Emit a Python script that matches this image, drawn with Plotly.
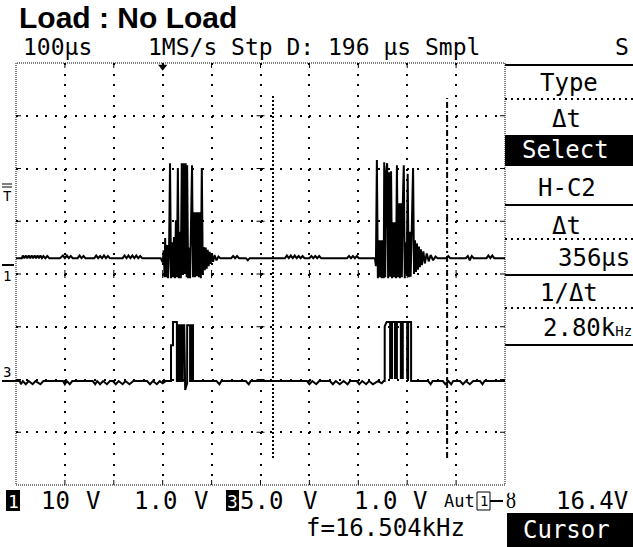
import plotly.graph_objects as go

TITLE = "Load : No Load"
HEADER_LEFT = "100µs"
HEADER_MID = "1MS/s Stp D: 196 µs Smpl"
HEADER_RIGHT = "S"

TIME_PER_DIV_US = 100      # 10 horizontal divisions
N_XDIV = 10
N_YDIV = 8
CH1_V_PER_DIV = 10
CH3_V_PER_DIV = 5
CH1_POS_DIV = 4.30         # trace baseline, divisions above bottom
CH3_POS_DIV = 1.97
TRIG_POS_US = 300

# channel 1 (V) : (time µs, volts)
ch1_samples = [
    (0, 0), (12, 0), (14, 0.5), (17, 0), (20, 0.5), (23, 0), (26, 0.5), (29, 0), (32, 0.5), (35, 0),
    (38, 0.5), (41, 0), (44, 0.5), (47, 0), (50, 0.5), (53, 0), (56, 0.4), (60, 0), (64, 0.4), (68, 0),
    (90, 0), (96, 0.5), (100, 0), (104, 0.5), (108, 0), (112, 0.4), (116, 0),
    (126, 0), (130, 0.5), (134, 0), (138, 0.4), (142, 0),
    (160, 0), (164, 0.5), (168, 0), (172, 0.4), (176, 0), (180, 0.5), (184, 0), (188, 0.4), (192, 0),
    (218, 0), (222, 0.5), (226, 0), (230, 0.5), (234, 0), (238, 0.5), (242, 0), (246, 0.5), (250, 0),
    (254, 0.4), (258, 0),
    (296, 0), (300, -0.8), (302, 1.5), (304, -3.6), (305, 3.8), (307, -3.6), (309, 2.5), (311, -3.8),
    (313, 1.5), (315, 18.0), (317, -3.8), (319, 3.0), (321, -3.6), (323, 4.0), (325, -3.8), (327, 7.2),
    (329, -3.6), (331, 17.1), (333, -3.8), (335, 5.0), (337, -3.8), (339, 18.0), (341, -3.2), (343, 18.0),
    (345, -3.0), (347, 18.0), (349, -3.6), (350, 17.6), (352, -3.8), (354, 2.0), (356, -3.8), (360, 17.6),
    (362, -3.6), (364, 8.7), (366, -3.6), (368, 8.7), (370, -3.4), (372, 8.7), (374, -3.6), (376, 8.7),
    (378, -3.8), (380, 17.1), (382, -3.0), (384, 2.1), (386, -2.3), (388, 2.0), (390, -2.0), (392, 1.6),
    (394, -1.5), (396, 1.2), (398, -1.1), (400, 0.9), (403, -0.7), (406, 0.6), (410, -0.4), (414, 0.3),
    (418, 0),
    (440, 0), (444, 0.4), (448, 0), (452, 0.4), (456, 0), (470, 0), (474, -0.4), (478, 0),
    (550, 0), (554, 0.5), (558, 0), (562, 0.5), (566, 0), (570, 0.5), (574, 0), (578, 0.4), (582, 0),
    (586, 0.4), (590, 0), (600, 0), (604, 0.4), (608, 0), (612, 0.4), (616, 0), (620, 0.4), (624, 0),
    (677, 0), (681, 0.4), (685, 0), (689, 0.4), (693, 0), (697, 0.4), (701, 0),
    (734, 0), (736, -1.5), (738, 18.6), (740, -3.8), (742, 3.4), (744, -3.6), (746, 3.4), (748, -3.8),
    (750, 3.4), (752, -3.8), (753, 18.2), (755, -3.6), (757, 16.3), (759, 18.0), (761, -3.8), (763, 16.3),
    (765, -3.5), (767, 16.5), (769, -3.8), (771, 6.8), (773, -3.6), (775, 6.8), (777, -3.8), (779, 17.6),
    (781, -3.6), (783, 10.4), (785, -3.8), (787, 10.4), (789, -3.6), (791, 10.4), (793, 17.6), (795, -3.8),
    (797, 3.0), (799, -3.0), (801, 16.0), (803, -3.6), (805, 5.0), (807, -3.5), (809, 4.0), (812, 17.1),
    (814, -3.0), (816, 3.4), (818, -2.6), (820, 2.8), (822, -2.2), (824, 2.2), (826, -1.7), (828, 1.7),
    (830, -1.3), (833, 1.3), (836, -1.0), (840, 0.9), (844, -0.6), (848, 0.6), (853, -0.4), (858, 0.3),
    (862, 0),
    (880, 0), (884, 0.4), (888, 0), (920, 0), (924, 0.4), (928, -0.4), (932, 0.4), (936, 0),
    (962, 0), (966, 0.5), (970, 0), (974, 0.5), (978, 0), (1000, 0),
]

# channel 3 (V) : (time µs, volts)
ch3_samples = [
    (0, 0), (8, 0), (10, -0.3), (14, 0), (20, -0.3), (26, 0), (34, -0.3), (40, 0), (50, -0.3), (56, 0),
    (96, 0), (100, -0.3), (104, 0), (110, -0.3), (115, 0),
    (157, 0), (162, -0.3), (166, 0), (172, -0.3), (178, 0), (186, -0.3), (192, 0),
    (198, 0), (204, -0.3), (210, 0), (218, -0.3), (224, 0), (232, -0.3), (240, 0),
    (268, 0), (274, -0.3), (280, 0), (288, -0.3), (294, 0), (300, -0.2), (306, 0),
    (317, 0), (317, 3.4), (321, 3.4), (321, 5.6), (329, 5.6), (329, 0), (333, 0), (333, 5.3), (337, 5.3),
    (337, 0), (341, 0), (341, 5.3), (344, 5.3), (346, -0.85), (350, -0.2), (350, 5.3), (356, 5.3),
    (356, 0), (358, 0), (358, 5.3), (362, 5.3), (362, 0),
    (410, 0), (416, -0.3), (420, 0), (470, 0), (476, -0.3), (480, 0),
    (595, 0), (600, -0.3), (606, 0), (614, -0.3), (620, 0),
    (642, 0), (648, -0.3), (654, 0), (662, -0.3), (670, 0), (678, -0.3), (683, 0),
    (697, 0), (702, -0.3), (708, 0), (716, -0.3), (722, 0), (730, -0.3), (740, 0), (748, -0.2), (752, 0),
    (754, 0), (754, 5.2), (758, 5.6), (765, 5.6), (765, 0.3), (769, 0.3), (769, 5.6), (775, 5.6),
    (775, 0.3), (779, 0.3), (779, 5.6), (787, 5.6), (787, 0.3), (791, 0.3), (791, 5.6), (800, 5.6),
    (800, 0.3), (802, 0.3), (802, 5.6), (808, 5.6), (808, 0), (814, 0),
    (843, 0), (848, -0.3), (852, 0), (873, 0), (878, -0.3), (884, 0), (890, -0.3), (894, 0),
    (908, 0), (914, -0.3), (920, 0), (928, -0.3), (935, 0), (949, 0), (954, -0.3), (958, 0), (1000, 0),
]

CURSOR1_US = 525.6
DELTA_T_US = 356

MENU_ITEMS = ["Type", "Δt", "Select", "H-C2", "Δt", "356µs", "1/Δt", "2.80k"]
BOTTOM_FREQ = "f=16.504kHz"
TRIG_LEVEL = "16.4V"

# ---------------- layout geometry (pixels) ----------------
W, H = 633, 547
L, R, T, B = 16, 505, 63, 485
MONO = "DejaVu Sans Mono"
FS = 24


def px(x):
    return (x - L) / (R - L)


def py(y):
    return (B - y) / (B - T)


fig = go.Figure()
fig.add_trace(go.Scatter(
    x=[s[0] for s in ch1_samples], y=[s[1] for s in ch1_samples],
    mode="lines", line=dict(color="black", width=2, simplify=False), yaxis="y", hoverinfo="skip"))
fig.add_trace(go.Scatter(
    x=[s[0] for s in ch3_samples], y=[s[1] for s in ch3_samples],
    mode="lines", line=dict(color="black", width=2, simplify=False), yaxis="y2", hoverinfo="skip"))

ch1_lo = -CH1_POS_DIV * CH1_V_PER_DIV
ch1_hi = (N_YDIV - CH1_POS_DIV) * CH1_V_PER_DIV
ch3_lo = -CH3_POS_DIV * CH3_V_PER_DIV
ch3_hi = (N_YDIV - CH3_POS_DIV) * CH3_V_PER_DIV

# trigger position marker
fig.add_trace(go.Scatter(
    x=[TRIG_POS_US], y=[ch1_hi - 0.07 * CH1_V_PER_DIV], mode="markers", yaxis="y",
    marker=dict(symbol="triangle-down", size=8, color="black"), cliponaxis=False, hoverinfo="skip"))

x_span = TIME_PER_DIV_US * N_XDIV
fig.update_layout(
    width=W, height=H,
    margin=dict(l=L, r=W - R, t=T, b=H - B, pad=0, autoexpand=False),
    paper_bgcolor="white", plot_bgcolor="white", showlegend=False,
    xaxis=dict(range=[0, x_span], tick0=0, dtick=TIME_PER_DIV_US, showticklabels=False,
               showgrid=True, gridcolor="black", gridwidth=2, griddash="2px,8.55px",
               zeroline=False, showline=False, ticks="", fixedrange=True),
    yaxis=dict(range=[ch1_lo, ch1_hi], tick0=ch1_lo, dtick=CH1_V_PER_DIV, showticklabels=False,
               showgrid=True, gridcolor="black", gridwidth=2, griddash="2px,7.78px",
               zeroline=False, showline=False, ticks="", fixedrange=True),
    yaxis2=dict(range=[ch3_lo, ch3_hi], overlaying="y", visible=False, fixedrange=True),
)

shapes = []
ann = []

# frame (dense dotted)
shapes.append(dict(type="rect", xref="paper", yref="paper", x0=0, x1=1, y0=0, y1=1,
                   line=dict(color="black", width=1, dash="1px,1px")))
# division ticks on frame
for k in range(1, N_XDIV):
    t = k * TIME_PER_DIV_US
    shapes.append(dict(type="line", xref="x", yref="paper", x0=t, x1=t, y0=1, y1=1 - 5 / (B - T),
                       line=dict(color="black", width=1)))
    shapes.append(dict(type="line", xref="x", yref="paper", x0=t, x1=t, y0=0, y1=5 / (B - T),
                       line=dict(color="black", width=1)))
    # ticks on centre horizontal line
    shapes.append(dict(type="line", xref="x", yref="paper", x0=t, x1=t, y0=0.5 - 4 / (B - T),
                       y1=0.5 + 4 / (B - T), line=dict(color="black", width=1)))
for k in range(1, N_YDIV):
    yy = k / N_YDIV
    shapes.append(dict(type="line", xref="paper", yref="paper", x0=0, x1=5 / (R - L), y0=yy, y1=yy,
                       line=dict(color="black", width=1)))
    shapes.append(dict(type="line", xref="paper", yref="paper", x0=1, x1=1 - 5 / (R - L), y0=yy, y1=yy,
                       line=dict(color="black", width=1)))
    shapes.append(dict(type="line", xref="paper", yref="paper", x0=0.5 - 4 / (R - L), x1=0.5 + 4 / (R - L),
                       y0=yy, y1=yy, line=dict(color="black", width=1)))

# cursors
shapes.append(dict(type="line", xref="x", yref="paper", x0=CURSOR1_US, x1=CURSOR1_US,
                   y0=py(458), y1=py(95), line=dict(color="black", width=2, dash="2px,2px")))
c2 = CURSOR1_US + DELTA_T_US
shapes.append(dict(type="line", xref="x", yref="paper", x0=c2, x1=c2,
                   y0=py(458), y1=py(98), line=dict(color="black", width=2, dash="6px,3px,2px,3px")))


def hline(y, x0, x1, dash=None, width=2):
    d = dict(color="black", width=width)
    if dash:
        d["dash"] = dash
    shapes.append(dict(type="line", xref="paper", yref="paper", x0=px(x0), x1=px(x1), y0=py(y), y1=py(y),
                       line=d))


def box(x0, x1, y0, y1, fill="black", line=None):
    shapes.append(dict(type="rect", xref="paper", yref="paper", x0=px(x0), x1=px(x1), y0=py(y1), y1=py(y0),
                       fillcolor=fill, line=line or dict(width=0)))


def text(s, x, y, size=FS, anchor="left", color="black", family=MONO, bold=False, height=None):
    if bold:
        s = "<b>" + s + "</b>"
    a = dict(text=s, xref="paper", yref="paper", x=px(x), y=py(y), xanchor=anchor, yanchor="middle",
             showarrow=False, font=dict(family=family, size=size, color=color))
    if height:
        a["height"] = height
    ann.append(a)


# right menu panel
hline(65, 505, 633)
hline(99, 505, 633, dash="2px,4px")
box(505, 633, 135, 166)
hline(205, 505, 633)
hline(239, 505, 633, dash="2px,4px")
hline(275, 505, 633)
hline(308, 505, 633, dash="2px,4px")
hline(345, 505, 633)

text(MENU_ITEMS[0], 569, 83, anchor="center")
text(MENU_ITEMS[1], 566, 119, anchor="center")
text(MENU_ITEMS[2], 565, 150, anchor="center", color="white")
text(MENU_ITEMS[3], 567, 188, anchor="center")
text(MENU_ITEMS[4], 566, 226, anchor="center")
text(MENU_ITEMS[5], 632, 258, anchor="right")
text(MENU_ITEMS[6], 569, 293, anchor="center")
text(MENU_ITEMS[7] + "<span style='font-size:14px'>Hz</span>", 634, 328, anchor="right")

# header
text(TITLE, 17, 17, size=30, family="Liberation Sans", bold=True, height=30)
text(HEADER_LEFT, 21, 47, size=23, height=26)
text(HEADER_MID, 146, 47, size=23, height=26)
text(HEADER_RIGHT, 613, 47, size=23, height=26)

# left markers
hline(184, 2, 12, width=1)
hline(187, 2, 12, width=1)
text("T", 7, 196, size=14, anchor="center")
hline(265, 2, 14, width=2)
text("1", 7, 276, size=14, anchor="center")
text("3", 7, 372, size=14, anchor="center")
hline(381, 2, 16, width=2)

# bottom status row
box(6, 20, 490, 511)
text("1", 13, 501, size=18, anchor="center", color="white")
text("10", 39, 501)
text("V", 84, 501)
text("1.0", 132, 501)
text("V", 192, 501)
box(226, 239, 490, 511)
text("3", 232.5, 501, size=18, anchor="center", color="white")
text("5.0", 238, 501)
text("V", 301, 501)
text("1.0", 352, 501)
text("V", 411, 501)
text("Aut", 442, 501, size=17)
box(477, 490, 492, 510, fill="white", line=dict(color="black", width=1))
text("1", 483.5, 501, size=14, anchor="center")
hline(501, 490, 503, width=2)
text("ȣ", 504, 501, size=20)
text(TRIG_LEVEL, 554, 501)
text(BOTTOM_FREQ, 304, 528)
box(507, 633, 513, 547)
text("Cursor", 566, 530, anchor="center", color="white")

fig.update_layout(shapes=shapes, annotations=ann)
fig.write_html("out.html", config={"displayModeBar": False},
               post_script="document.body.style.margin='0px';document.body.style.overflow='hidden';")
